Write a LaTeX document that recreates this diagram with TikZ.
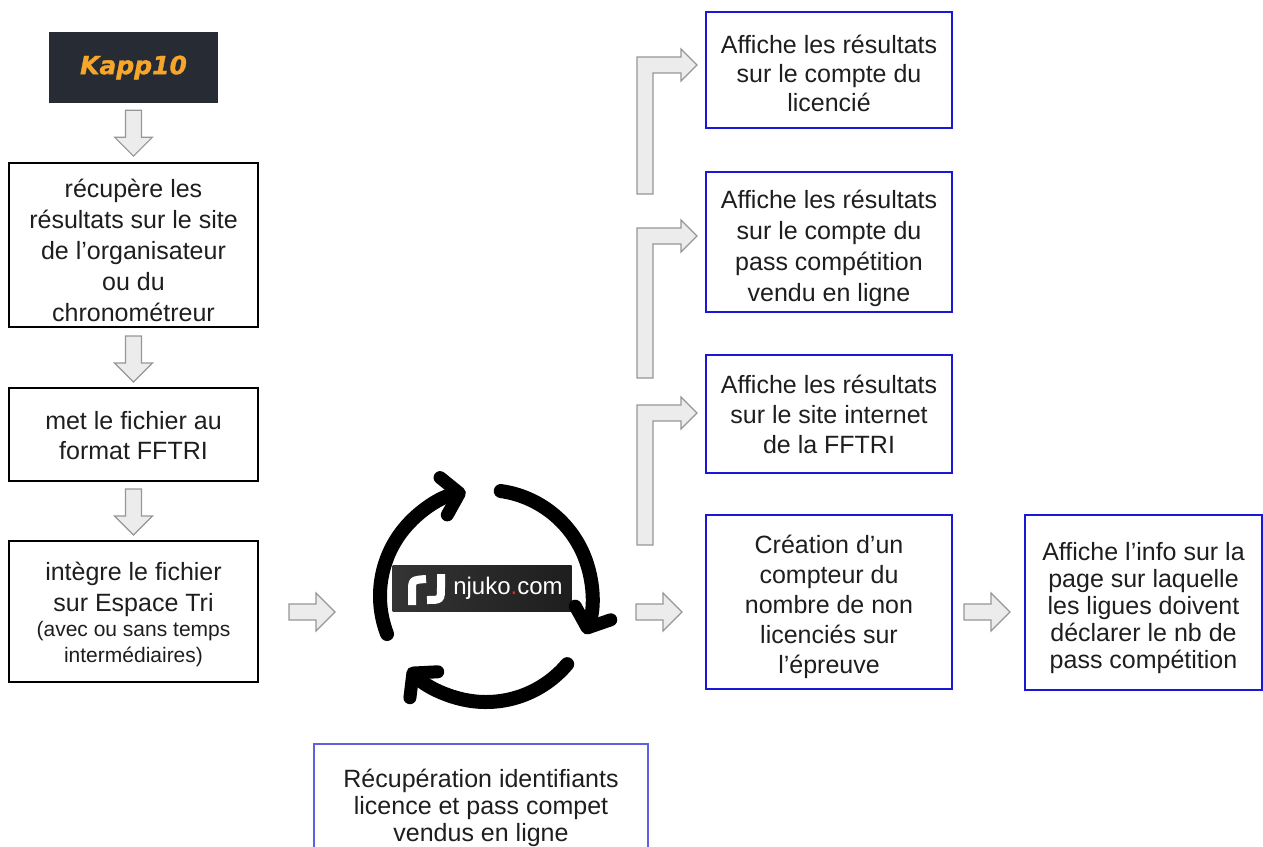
\documentclass[tikz,border=0pt]{standalone}
\usepackage{fontspec}
\setmainfont{Liberation Sans}
\newfontfamily\kappfont{DejaVu Sans}
\usetikzlibrary{arrows.meta,calc}

\definecolor{txt}{RGB}{30,30,30}
\definecolor{bblue}{RGB}{24,24,214}
\definecolor{lblue}{RGB}{95,95,225}
\definecolor{afill}{RGB}{236,236,236}
\definecolor{aline}{RGB}{150,150,150}
\definecolor{kappbg}{RGB}{38,43,52}
\definecolor{kapporange}{RGB}{247,166,44}
\definecolor{njred}{RGB}{225,40,40}
\definecolor{njleft}{RGB}{52,52,52}
\definecolor{njright}{RGB}{30,30,30}

\tikzset{
  lead/.style={font=\fontsize{25}{#1}\selectfont},
  lbox/.style={draw=black, line width=2pt, inner sep=0pt},
  rbox/.style={draw=bblue, line width=2pt, inner sep=0pt},
  fbox/.style={draw=lblue, line width=1.3pt, inner sep=0pt},
  lbl/.style={align=center, inner sep=0pt, text=txt},
  blockarr/.style={fill=afill, draw=aline, line width=1.1pt, line join=miter},
  barrow/.pic={\draw[blockarr] (0,-8) -- (27,-8) -- (27,-19) -- (46,0) -- (27,19) -- (27,8) -- (0,8) -- cycle;},
  cyc/.style={line width=14pt, line cap=round, black, -{Straight Barb[length=16pt,width=38pt,line width=13pt,round]}},
  icon/.style={white, line width=8pt}
}
\newcommand\bentarr[2]{%
  \draw[blockarr] (637,#1) -- (637,#2) -- ++(44,0) -- ++(0,-8) -- ++(16,16) -- ++(-16,16) -- ++(0,-8) -- ++(-28,0) -- (653,#1) -- cycle;}

\begin{document}
\begin{tikzpicture}[x=1pt,y=-1pt]
\useasboundingbox (0,0) rectangle (1263,846);
\clip (0,0) rectangle (1263,846);

% left column
\node[fill=kappbg, minimum width=169pt, minimum height=71pt, inner sep=0pt,
      text=kapporange, font=\kappfont\bfseries\itshape\fontsize{25}{25}\selectfont\addfontfeature{FakeBold=1.2}] (kapp) at (133.5,67.5) {Kapp10};
\node[lbox, minimum width=249pt, minimum height=164pt] (box1) at (133.5,245) {};
\node[lbl, lead=31] (box1t) at ([yshift=-5pt]box1.center)
  {récupère les\\résultats sur le site\\de l’organisateur\\ou du\\chronométreur};
\node[lbox, minimum width=249pt, minimum height=93pt] (box2) at (133.5,434.5) {};
\node[lbl, lead=30] (box2t) at ([yshift=-1pt]box2.center)
  {met le fichier au\\format FFTRI};
\node[lbox, minimum width=249pt, minimum height=141pt] (box3) at (133.5,611.5) {};
\node[lbl, lead=31] (box3t) at ([yshift=-3pt]box3.center)
  {intègre le fichier\\sur Espace Tri\\[-6pt]{\fontsize{21}{25}\selectfont (avec ou sans temps}\\[-5pt]{\fontsize{21}{25}\selectfont intermédiaires)}};

\pic[rotate=-90] at ($(kapp.south)+(0,7)$) {barrow};
\pic[rotate=-90] at ($(box1.south)+(0,8)$) {barrow};
\pic[rotate=-90] at ($(box2.south)+(0,7)$) {barrow};
\pic at ($(box3.east)+(30,0.5)$) {barrow};

% njuko cycle
\node[minimum width=179pt, minimum height=46pt, inner sep=0pt,
      left color=njleft, right color=njright] (nj) at (482,588) {};
\draw[icon] (412,605) -- (412,592) .. controls (412,580) .. (426,579);
\draw[icon] (441,574) -- (441,587) .. controls (441,600) .. (427,600);
\node[text=white, font=\fontsize{24}{24}\selectfont, inner sep=0pt] (njtext) at ($(nj.center)+(26,0)$) {njuko\textcolor{njred}{.}com};

\begin{scope}[shift={(486,596)}, x=1pt, y=1pt]
  \draw[cyc] (201:106) arc[start angle=201, end angle=101, radius=106];
  \draw[cyc] (82:106) arc[start angle=82, end angle=-21, radius=106];
  \draw[cyc] (-40:106) arc[start angle=-40, end angle=-137, radius=106];
\end{scope}

\node[fbox, minimum width=334pt, minimum height=116pt] (bF) at (481,802) {};
\node[lbl, lead=27] (bFt) at ([yshift=-6pt]bF.center)
  {Récupération identifiants\\licence et pass compet\\vendus en ligne};

% right column
\node[rbox, minimum width=246pt, minimum height=116pt] (bA) at (829,70) {};
\node[lbl, lead=29] (bAt) at ([yshift=-3pt]bA.center)
  {Affiche les résultats\\sur le compte du\\licencié};
\node[rbox, minimum width=246pt, minimum height=140pt] (bB) at (829,242) {};
\node[lbl, lead=31] (bBt) at ([yshift=-6pt]bB.center)
  {Affiche les résultats\\sur le compte du\\pass compétition\\vendu en ligne};
\node[rbox, minimum width=246pt, minimum height=118pt] (bC) at (829,414) {};
\node[lbl, lead=30] (bCt) at (bC.center)
  {Affiche les résultats\\sur le site internet\\de la FFTRI};
\node[rbox, minimum width=246pt, minimum height=174pt] (bD) at (829,602) {};
\node[lbl, lead=30] (bDt) at ([yshift=-5pt]bD.center)
  {Création d’un\\compteur du\\nombre de non\\licenciés sur\\l’épreuve};
\node[rbox, minimum width=237pt, minimum height=175pt] (bE) at (1143.5,602.5) {};
\node[lbl, lead=27] (bEt) at ([yshift=-6pt]bE.center)
  {Affiche l’info sur la\\page sur laquelle\\les ligues doivent\\déclarer le nb de\\pass compétition};

\bentarr{194}{57}
\bentarr{378}{228}
\bentarr{545}{405}
\pic at ($(bD.west|-box3.east)+(-69,0.5)$) {barrow};
\pic at ($(bE.west|-box3.east)+(-60,0.5)$) {barrow};
\end{tikzpicture}
\end{document}
